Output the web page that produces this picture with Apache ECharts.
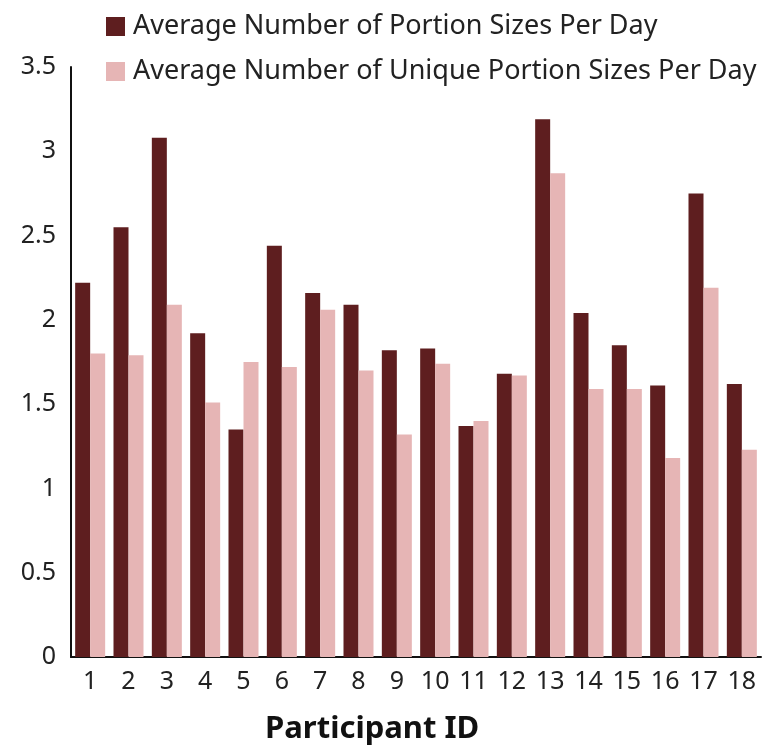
<!DOCTYPE html>
<html>
<head>
<meta charset="utf-8">
<script src="https://cdn.jsdelivr.net/npm/echarts@6/dist/echarts.min.js"></script>
<style>html,body{margin:0;padding:0;background:#fff;}#c{width:763px;height:750px;}</style>
</head>
<body>
<div id="c"></div>
<script>
const categories = ['1','2','3','4','5','6','7','8','9','10','11','12','13','14','15','16','17','18'];
const seriesNames = ['Average Number of Portion Sizes Per Day', 'Average Number of Unique Portion Sizes Per Day'];
const portionSizes = [2.22, 2.55, 3.08, 1.92, 1.35, 2.44, 2.16, 2.09, 1.82, 1.83, 1.37, 1.68, 3.19, 2.04, 1.85, 1.61, 2.75, 1.62];
const uniquePortionSizes = [1.80, 1.79, 2.09, 1.51, 1.75, 1.72, 2.06, 1.70, 1.32, 1.74, 1.40, 1.67, 2.87, 1.59, 1.59, 1.18, 2.19, 1.23];
const yTicks = { min: 0, max: 3.5, interval: 0.5 };
const xTitle = 'Participant ID';

const FONT = 'Noto Sans';
const chart = echarts.init(document.getElementById('c'), null, { renderer: 'canvas' });
chart.setOption({
  animation: false,
  backgroundColor: '#ffffff',
  textStyle: { fontFamily: FONT },
  title: {
    text: xTitle,
    left: 260, top: 709,
    textStyle: { fontFamily: FONT, fontSize: 31, fontWeight: 'bold', color: '#111' }
  },
  legend: {
    orient: 'vertical',
    left: 101, top: 8,
    itemWidth: 19, itemHeight: 19,
    itemGap: 18,
    icon: 'rect',
    textStyle: { fontFamily: 'Noto Sans', fontSize: 27, lineHeight: 25, color: '#222', padding: [0, 0, 0, 3] },
    data: seriesNames
  },
  grid: { left: 71, right: 2, top: 67, bottom: 93, containLabel: false },
  xAxis: {
    type: 'category',
    data: categories,
    axisLine: { show: true, lineStyle: { color: '#111', width: 2 } },
    axisTick: { show: false },
    axisLabel: { fontFamily: FONT, fontSize: 25, color: '#222', margin: 12, interval: 0 }
  },
  yAxis: {
    type: 'value',
    min: yTicks.min, max: yTicks.max, interval: yTicks.interval,
    axisLine: { show: true, lineStyle: { color: '#111', width: 2 } },
    axisTick: { show: false },
    splitLine: { show: false },
    axisLabel: { fontFamily: FONT, fontSize: 25, color: '#222', margin: 15 }
  },
  series: [
    { name: seriesNames[0], type: 'bar', data: portionSizes, barWidth: 15, barGap: '0%', itemStyle: { color: '#5e1e1f' } },
    { name: seriesNames[1], type: 'bar', data: uniquePortionSizes, barWidth: 15, barGap: '0%', itemStyle: { color: '#e6b5b5' } }
  ]
});
</script>
</body>
</html>
